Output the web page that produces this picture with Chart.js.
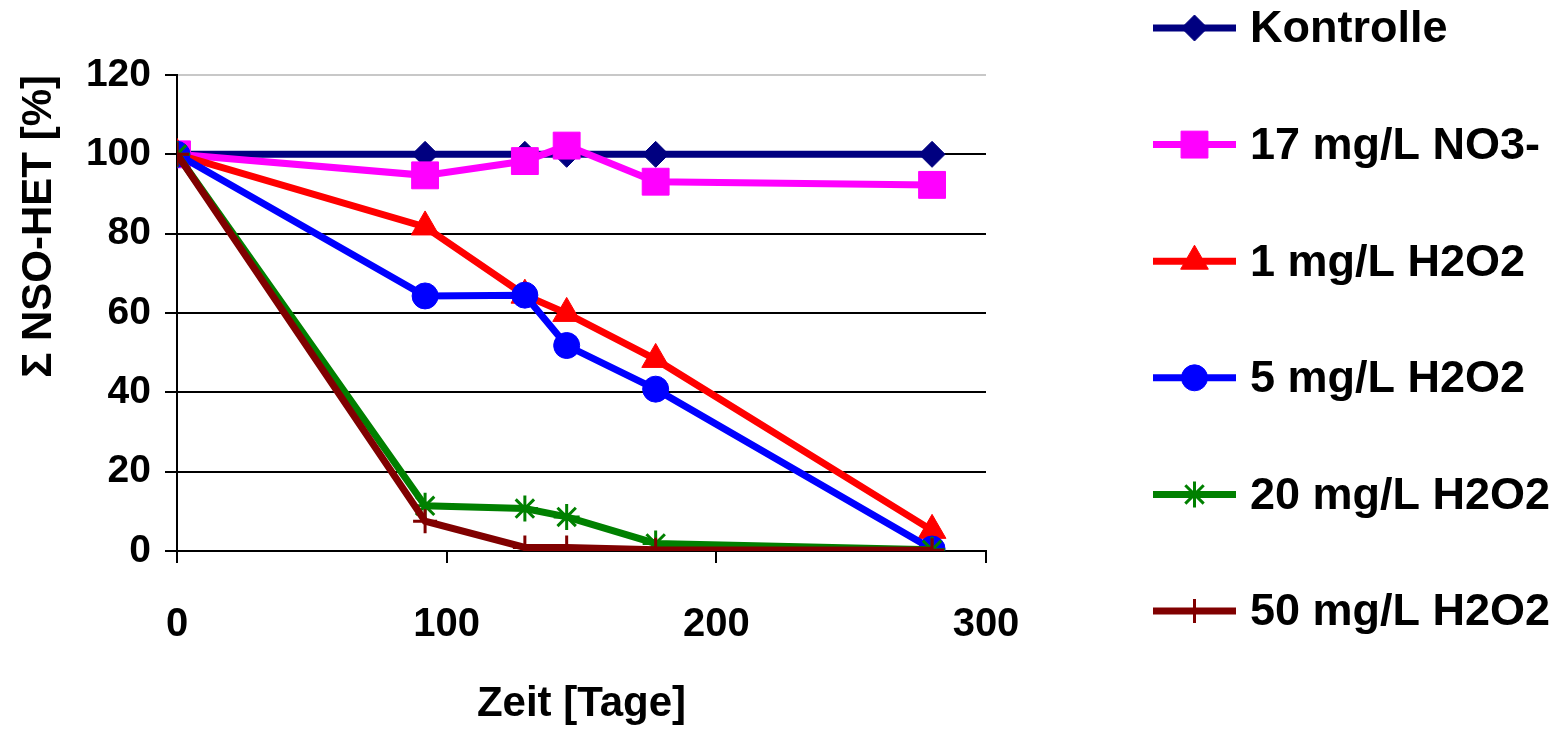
<!DOCTYPE html>
<html>
<head>
<meta charset="utf-8">
<script src="https://cdn.jsdelivr.net/npm/chart.js@4/dist/chart.umd.min.js"></script>
<style>
  body { margin: 0; background: #fff; }
  #wrap { width: 1556px; height: 730px; }
</style>
</head>
<body>
<div id="wrap"><canvas id="nso-chart"></canvas></div>
<script>
const days = [0, 92, 129, 144.5, 177.5, 280];

const kontrolle = [100, 100, 100, 100, 100, 100];
const no3_17 = [100, 94.7, 98.3, 102.2, 93.1, 92.3];
const h2o2_1 = [100, 81.7, 64.5, 59.9, 48.3, 5.2];
const h2o2_5 = [100, 64.3, 64.5, 51.8, 40.8, 0.5];
const h2o2_20 = [100, 11.4, 10.7, 8.6, 1.9, 0.3];
const h2o2_50 = [100, 7.5, 0.9, 0.9, 0.3, 0.2];

const seriesLabels = [
  "Kontrolle",
  "17 mg/L NO3-",
  "1 mg/L H2O2",
  "5 mg/L H2O2",
  "20 mg/L H2O2",
  "50 mg/L H2O2",
];

const yTicks = [0, 20, 40, 60, 80, 100, 120];
const xTicks = [0, 100, 200, 300];

const FONT = "'Liberation Sans', Arial, sans-serif";

const toPoints = (values) => values.map((v, i) => ({ x: days[i], y: v }));

const makeSet = (label, values, color, style, radius, order) => ({
  label: label,
  data: toPoints(values),
  borderColor: color,
  backgroundColor: color,
  borderWidth: 7,
  pointStyle: style,
  pointRadius: radius,
  pointBackgroundColor: color,
  pointBorderColor: color,
  pointBorderWidth: style === "star" || style === "cross" ? 3 : 1,
  tension: 0,
  order: order,
});

const datasets = [
  makeSet(seriesLabels[0], kontrolle, "#000080", "rectRot", 13, 6),
  makeSet(seriesLabels[1], no3_17, "#ff00ff", "rect", 19, 5),
  makeSet(seriesLabels[2], h2o2_1, "#ff0000", "triangle", 16, 4),
  makeSet(seriesLabels[3], h2o2_5, "#0000ff", "circle", 13, 3),
  makeSet(seriesLabels[4], h2o2_20, "#008000", "star", 13, 2),
  makeSet(seriesLabels[5], h2o2_50, "#800000", "cross", 12, 1),
];

// legend drawn by hand: the built-in one wraps into columns with this spacing
const sideLegend = {
  id: "sideLegend",
  afterDraw(chart) {
    const ctx = chart.ctx;
    const x0 = 1153, x1 = 1236, textX = 1250;
    const top = 28, step = 116.6;
    ctx.save();
    chart.data.datasets.forEach((ds, i) => {
      const y = top + i * step;
      ctx.strokeStyle = ds.borderColor;
      ctx.fillStyle = ds.borderColor;
      ctx.lineWidth = 7;
      ctx.beginPath();
      ctx.moveTo(x0, y);
      ctx.lineTo(x1, y);
      ctx.stroke();
      ctx.lineWidth = ds.pointBorderWidth;
      Chart.helpers.drawPoint(ctx, {
        pointStyle: ds.pointStyle,
        radius: ds.pointRadius,
        borderWidth: ds.pointBorderWidth,
        rotation: 0,
      }, (x0 + x1) / 2, y);
      ctx.fillStyle = "#000";
      ctx.font = "bold 45px " + FONT;
      ctx.textAlign = "left";
      ctx.textBaseline = "middle";
      ctx.fillText(ds.label, textX, y + 2);
    });
    ctx.restore();
  },
};

new Chart(document.getElementById("nso-chart"), {
  type: "line",
  data: { datasets: datasets },
  plugins: [sideLegend],
  options: {
    responsive: true,
    maintainAspectRatio: false,
    animation: false,
    layout: { padding: { top: 75, right: 570, bottom: 0, left: 0 } },
    plugins: {
      legend: { display: false },
      tooltip: { enabled: false },
    },
    scales: {
      x: {
        type: "linear",
        min: 0,
        max: 300,
        afterFit: (s) => { s.height = 179; },
        afterBuildTicks: (s) => { s.ticks = xTicks.map((v) => ({ value: v })); },
        border: { color: "#000", width: 2 },
        grid: {
          drawOnChartArea: false,
          drawTicks: true,
          tickLength: 12,
          tickColor: "#000",
          lineWidth: 2,
        },
        ticks: {
          color: "#000",
          padding: 38,
          maxRotation: 0,
          font: { family: FONT, size: 40, weight: "bold" },
        },
        title: {
          display: true,
          text: "Zeit [Tage]",
          color: "#000",
          font: { family: FONT, size: 42, weight: "bold" },
          padding: { top: 0, bottom: 0 },
        },
      },
      y: {
        min: 0,
        max: 120,
        afterFit: (s) => { s.width = 177; },
        afterBuildTicks: (s) => { s.ticks = yTicks.map((v) => ({ value: v })); },
        border: { color: "#000", width: 2 },
        grid: {
          color: (c) => (c.tick && c.tick.value === 120 ? "#c8c8c8" : "#000"),
          lineWidth: 2,
          tickLength: 12,
          tickColor: "#000",
        },
        ticks: {
          color: "#000",
          padding: 14,
          font: { family: FONT, size: 39, weight: "bold" },
        },
        title: {
          display: true,
          text: "Σ NSO-HET [%]",
          align: "end",
          color: "#000",
          font: { family: FONT, size: 42, weight: "bold" },
          padding: { top: 14, bottom: 0 },
        },
      },
    },
  },
});
</script>
</body>
</html>
